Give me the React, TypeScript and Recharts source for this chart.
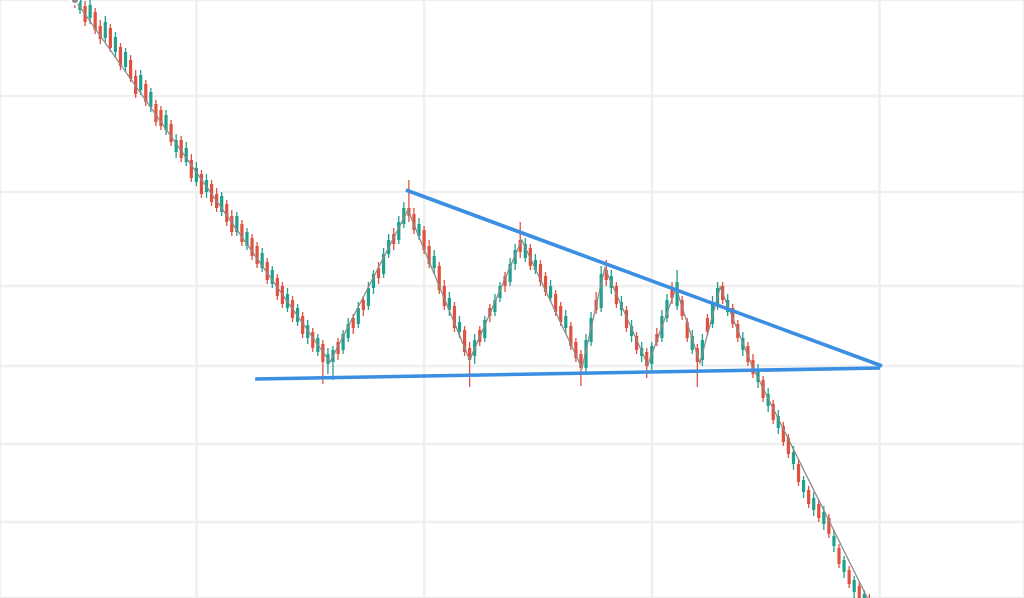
import { Bar, CartesianGrid, ComposedChart, Line, ReferenceLine, XAxis, YAxis } from "recharts"

// candles as [open, high, low, close], one leg of the move per array
const legA = [
  [610, 616, 592, 598], [590, 612, 586, 606], [594, 599, 574, 578], [582, 600, 576, 595],
  [588, 592, 566, 570], [574, 580, 556, 561], [562, 584, 558, 578], [572, 576, 548, 552],
  [548, 568, 542, 563], [553, 557, 530, 534], [533, 552, 528, 548], [540, 545, 518, 521],
  [524, 530, 502, 506], [510, 530, 505, 525], [516, 520, 494, 498], [493, 512, 488, 508],
  [496, 500, 474, 478], [490, 494, 470, 474], [470, 490, 465, 485], [476, 480, 454, 458],
  [448, 466, 442, 460], [460, 464, 438, 442], [438, 458, 434, 452], [440, 446, 418, 422],
  [418, 438, 414, 432], [426, 430, 402, 406], [408, 426, 402, 420], [416, 420, 394, 398],
  [406, 412, 388, 392], [388, 408, 384, 404], [396, 400, 374, 378], [384, 390, 364, 368],
  [368, 388, 364, 384], [376, 380, 354, 358], [354, 372, 350, 368], [362, 366, 340, 344],
  [354, 358, 332, 336], [332, 352, 328, 347], [338, 342, 316, 320], [316, 334, 312, 330],
  [322, 326, 300, 304], [314, 318, 292, 296], [292, 312, 288, 306], [300, 304, 278, 282],
  [278, 296, 274, 292], [284, 288, 262, 266], [262, 280, 256, 275], [268, 272, 248, 252],
  [248, 266, 244, 262], [256, 260, 216, 238], [236, 252, 226, 246],
]
const legB = [
  [238, 254, 220, 250], [258, 262, 240, 246], [250, 270, 246, 266], [262, 282, 258, 276],
  [282, 286, 266, 272], [276, 298, 272, 292], [300, 304, 284, 290], [294, 318, 290, 312],
  [312, 330, 306, 326], [332, 338, 316, 322], [326, 352, 322, 346], [346, 366, 342, 360],
  [366, 372, 350, 356], [360, 384, 356, 378], [376, 398, 372, 392], [392, 420, 378, 384],
]
const legC = [
  [386, 392, 366, 370], [364, 382, 360, 376], [370, 374, 346, 350], [354, 360, 332, 336],
  [332, 350, 326, 344], [334, 338, 306, 310], [314, 320, 290, 294], [290, 308, 284, 302],
  [294, 298, 268, 272], [268, 284, 262, 278], [270, 274, 244, 248], [252, 258, 213, 240],
]
const legD = [
  [244, 266, 236, 260], [270, 274, 254, 258], [262, 284, 258, 280], [292, 296, 278, 284],
  [288, 306, 284, 300], [302, 318, 298, 314], [324, 328, 308, 314], [318, 342, 314, 336],
  [336, 356, 330, 350], [360, 378, 342, 348],
]
const legE = [
  [342, 362, 338, 356], [352, 356, 330, 334], [330, 346, 326, 340], [336, 340, 314, 318],
  [324, 328, 304, 308], [302, 320, 298, 314], [306, 310, 284, 288], [294, 298, 274, 278],
  [272, 290, 266, 284], [274, 278, 250, 254], [258, 262, 238, 242], [246, 250, 214, 232],
]
const legF = [
  [232, 266, 228, 260], [258, 288, 254, 282], [300, 308, 286, 290], [292, 334, 288, 326],
  [330, 340, 314, 320],
]
const legG = [
  [312, 330, 306, 324], [314, 318, 292, 296], [290, 304, 284, 298], [290, 294, 268, 272],
  [264, 280, 258, 274], [264, 268, 246, 250], [244, 258, 238, 252], [248, 252, 222, 234],
]
const legH = [
  [236, 258, 230, 254], [266, 272, 254, 258], [262, 290, 258, 284], [282, 306, 278, 300],
  [312, 318, 296, 302], [294, 330, 290, 318],
]
const legI = [
  [300, 304, 280, 284], [278, 282, 258, 262], [250, 270, 246, 264], [252, 256, 213, 238],
]
const legJ = [
  [240, 266, 234, 260], [282, 286, 264, 268], [276, 304, 272, 298], [296, 318, 290, 312],
]
const legK = [
  [314, 318, 296, 300], [288, 306, 284, 300], [292, 296, 272, 276], [276, 280, 258, 262],
  [250, 268, 244, 262], [254, 258, 234, 238], [240, 246, 222, 226], [218, 236, 212, 230],
  [220, 224, 198, 202], [194, 212, 188, 206], [196, 200, 176, 180], [172, 190, 166, 184],
  [174, 178, 154, 158], [162, 166, 142, 146], [136, 154, 130, 148], [136, 140, 114, 118],
  [108, 124, 102, 120], [110, 114, 92, 96], [90, 108, 84, 102], [96, 100, 78, 82],
  [76, 94, 70, 88], [82, 86, 62, 66], [54, 70, 48, 64], [52, 56, 32, 36],
  [28, 44, 22, 40], [30, 34, 12, 16], [8, 24, 2, 20], [14, 18, -2, 2],
  [-6, 10, -10, 6], [2, 6, -14, -10],
]

// swing points of the thin grey line (candle index, price)
const zigzag = [
  { i: 0, p: 600 }, { i: 50.4, p: 238 }, { i: 65.8, p: 390 }, { i: 78, p: 240 },
  { i: 88.3, p: 360 }, { i: 100.2, p: 232 }, { i: 104.7, p: 332 }, { i: 113.2, p: 235 },
  { i: 118.8, p: 312 }, { i: 123.5, p: 237 }, { i: 127.5, p: 313 }, { i: 134, p: 232 },
  { i: 157, p: -2 },
]

const upperTrend = [{ x: 65.4, y: 410 }, { x: 159.5, y: 234 }]
const lowerTrend = [{ x: 35.6, y: 221 }, { x: 159.1, y: 232 }]

const xTicks = [24, 69, 114, 159]
const yTicks = [597, 504, 408, 314, 234, 156, 78]

const candles = [...legA, ...legB, ...legC, ...legD, ...legE, ...legF, ...legG, ...legH, ...legI, ...legJ, ...legK].map(
  (c, idx) => ({ i: idx, o: c[0], h: c[1], l: c[2], c: c[3] })
)

const Candle = (props: any) => {
  const { x, y, width, height, payload } = props
  const top = Math.min(y, y + height)
  const hh = Math.abs(height)
  const range = payload.h - payload.l || 1
  const ppu = hh / range
  const up = payload.c >= payload.o
  const color = up ? "#22a08e" : "#e0523f"
  const bTop = top + (payload.h - Math.max(payload.o, payload.c)) * ppu
  const bBot = top + (payload.h - Math.min(payload.o, payload.c)) * ppu
  const cx = x + width / 2
  return (
    <g>
      <line x1={cx} x2={cx} y1={top} y2={top + hh} stroke={color} strokeWidth={1.3} />
      <rect x={cx - 1.6} y={bTop} width={3.2} height={Math.max(bBot - bTop, 1)} fill={color} />
    </g>
  )
}

export default function App() {
  return (
    <div style={{ position: "absolute", left: 0, top: 0, width: 1024, height: 598, overflow: "hidden", background: "#fff" }}>
      <ComposedChart width={1024} height={598} data={candles} margin={{ top: 0, right: 0, bottom: 0, left: 0 }}>
        <CartesianGrid stroke="#efefef" strokeWidth={2.5} />
        <XAxis type="number" dataKey="i" domain={[-14.82, 187.55]} ticks={xTicks} allowDataOverflow hide />
        <YAxis type="number" domain={[2, 600]} ticks={yTicks} allowDataOverflow hide />
        <Bar dataKey={(d: any) => [d.l, d.h]} barSize={3} shape={Candle} isAnimationActive={false} />
        <Line
          data={zigzag}
          dataKey="p"
          type="linear"
          stroke="#8c8c8c"
          strokeWidth={1.3}
          dot={false}
          isAnimationActive={false}
        />
        <ReferenceLine segment={upperTrend} stroke="#3b8fe3" strokeWidth={3.6} />
        <ReferenceLine segment={lowerTrend} stroke="#3b8fe3" strokeWidth={3.6} />
      </ComposedChart>
    </div>
  )
}
